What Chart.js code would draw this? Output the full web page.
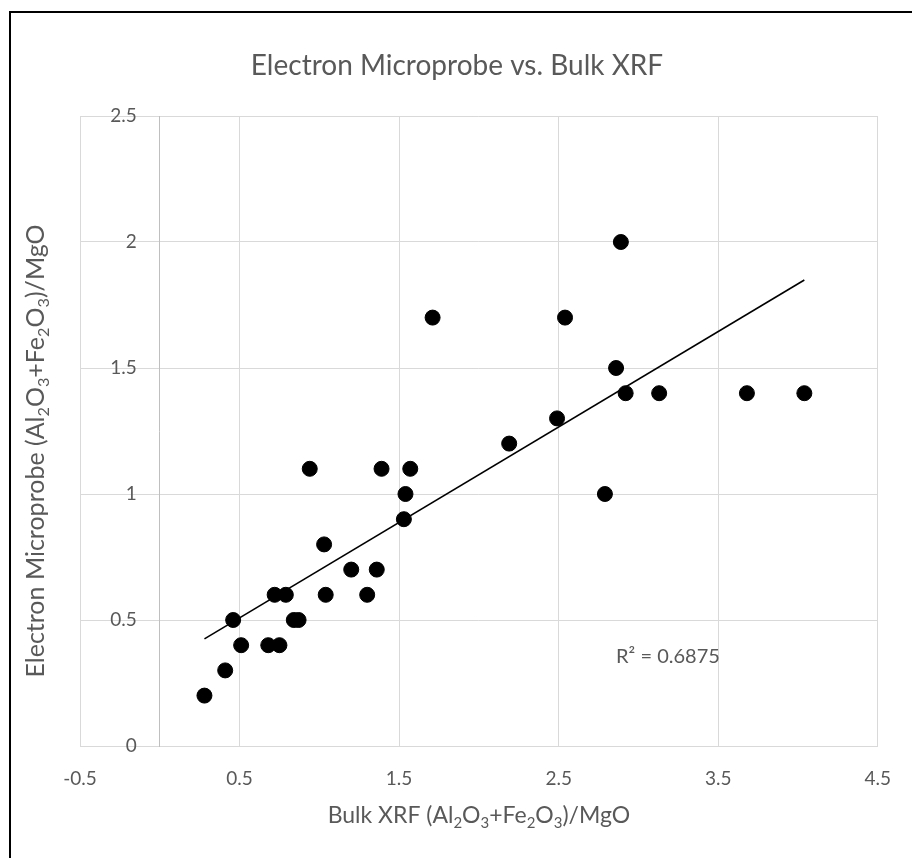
<!DOCTYPE html>
<html>
<head>
<meta charset="utf-8">
<script src="https://cdn.jsdelivr.net/npm/chart.js@4"></script>
<style>
  html, body { margin: 0; padding: 0; background: #fff; }
</style>
</head>
<body>
<canvas id="grafico" width="912" height="858"></canvas>
<script>
// bulk XRF ratio (x) vs. electron microprobe ratio (y)
const bulkXrf = [0.28, 0.41, 0.46, 0.51, 0.68, 0.72, 0.75, 0.79, 0.84, 0.87,
                 0.94, 1.03, 1.04, 1.20, 1.30, 1.36, 1.39, 1.53, 1.54, 1.57,
                 1.71, 2.19, 2.49, 2.54, 2.79, 2.86, 2.89, 2.92, 3.13, 3.68, 4.04];
const microprobe = [0.2, 0.3, 0.5, 0.4, 0.4, 0.6, 0.4, 0.6, 0.5, 0.5,
                    1.1, 0.8, 0.6, 0.7, 0.6, 0.7, 1.1, 0.9, 1.0, 1.1,
                    1.7, 1.2, 1.3, 1.7, 1.0, 1.5, 2.0, 1.4, 1.4, 1.4, 1.4];
const xTicks = [-0.5, 0.5, 1.5, 2.5, 3.5, 4.5];
const yTicks = [0, 0.5, 1, 1.5, 2, 2.5];

const chartTitle = 'Electron Microprobe vs. Bulk XRF';
const xTitle = 'Bulk XRF (Al2O3+Fe2O3)/MgO';
const yTitle = 'Electron Microprobe (Al2O3+Fe2O3)/MgO';
const r2Label = 'R² = 0.6875';

const FONT = 'Lato, "Noto Sans", sans-serif';
const TEXT = '#595959';

// least squares trend line over the data range
const n = bulkXrf.length;
const mx = bulkXrf.reduce((a, b) => a + b, 0) / n;
const my = microprobe.reduce((a, b) => a + b, 0) / n;
let sxy = 0, sxx = 0;
for (let i = 0; i < n; i++) {
  sxy += (bulkXrf[i] - mx) * (microprobe[i] - my);
  sxx += (bulkXrf[i] - mx) ** 2;
}
const slope = sxy / sxx;
const intercept = my - slope * mx;
const xLo = Math.min(...bulkXrf), xHi = Math.max(...bulkXrf);
const trend = [xLo, xHi].map(x => ({ x: x, y: intercept + slope * x }));

// text with digits set as subscripts (chemical formulas)
function subText(ctx, str, cx, cy, size) {
  const parts = str.split(/(\d)/).filter(p => p.length);
  const subSize = size * 0.65;
  let w = 0;
  parts.forEach(p => {
    ctx.font = (/\d/.test(p) ? subSize : size) + 'px ' + FONT;
    w += ctx.measureText(p).width;
  });
  let x = cx - w / 2;
  const base = cy + size * 0.35;
  ctx.textAlign = 'left';
  ctx.textBaseline = 'alphabetic';
  parts.forEach(p => {
    const sub = /\d/.test(p);
    ctx.font = (sub ? subSize : size) + 'px ' + FONT;
    ctx.fillText(p, x, sub ? base + size * 0.2 : base);
    x += ctx.measureText(p).width;
  });
}

const labels = {
  id: 'labels',
  afterDraw(chart) {
    const ctx = chart.ctx;
    const area = chart.chartArea;
    const xs = chart.scales.x, ys = chart.scales.y;
    ctx.save();
    ctx.fillStyle = TEXT;

    ctx.font = '28px ' + FONT;
    ctx.textAlign = 'center';
    ctx.textBaseline = 'middle';
    ctx.fillText(chartTitle, 457, 66);

    // y tick labels sit left of the x = 0 axis line
    ctx.font = '19px ' + FONT;
    ctx.textAlign = 'right';
    const axisX = xs.getPixelForValue(0);
    yTicks.forEach(v => ctx.fillText(String(v), axisX - 23, ys.getPixelForValue(v)));

    subText(ctx, xTitle, (area.left + area.right) / 2, 815, 23);

    ctx.save();
    ctx.translate(35, 451);
    ctx.rotate(-Math.PI / 2);
    subText(ctx, yTitle, 0, 0, 25);
    ctx.restore();

    ctx.font = '20px ' + FONT;
    ctx.textAlign = 'left';
    ctx.textBaseline = 'middle';
    ctx.fillText(r2Label, xs.getPixelForValue(2.86), ys.getPixelForValue(0.355));

    // chart frame
    ctx.strokeStyle = '#000';
    ctx.lineWidth = 2;
    ctx.beginPath();
    ctx.moveTo(10, 870);
    ctx.lineTo(10, 12);
    ctx.lineTo(930, 12);
    ctx.stroke();
    ctx.restore();
  }
};

new Chart(document.getElementById('grafico'), {
  type: 'scatter',
  data: {
    datasets: [{
      label: 'dados',
      data: bulkXrf.map((x, i) => ({ x: x, y: microprobe[i] })),
      backgroundColor: '#000000',
      borderColor: '#000000',
      pointRadius: 7.5,
      pointHoverRadius: 7.5,
      order: 1
    }, {
      type: 'line',
      label: 'tendencia',
      data: trend,
      borderColor: '#000000',
      borderWidth: 1.6,
      pointRadius: 0,
      fill: false,
      order: 2
    }]
  },
  options: {
    responsive: false,
    animation: false,
    layout: { padding: { left: 80, right: 31, top: 116, bottom: 0 } },
    plugins: { legend: { display: false }, tooltip: { enabled: false } },
    scales: {
      x: {
        type: 'linear',
        position: 'bottom',
        min: -0.5,
        max: 4.5,
        afterBuildTicks: s => { s.ticks = xTicks.map(v => ({ value: v })); },
        afterFit: s => { s.height = 112; },
        grid: { color: '#d9d9d9', drawTicks: false },
        border: { color: '#d9d9d9' },
        ticks: { color: TEXT, font: { family: FONT, size: 19 }, padding: 21,
                 maxRotation: 0, callback: v => String(v) }
      },
      y: {
        type: 'linear',
        position: { x: 0 },
        min: 0,
        max: 2.5,
        afterBuildTicks: s => { s.ticks = yTicks.map(v => ({ value: v })); },
        grid: { color: '#d9d9d9', drawTicks: false },
        border: { color: '#bfbfbf' },
        ticks: { display: false }
      }
    }
  },
  plugins: [labels]
});
</script>
</body>
</html>
